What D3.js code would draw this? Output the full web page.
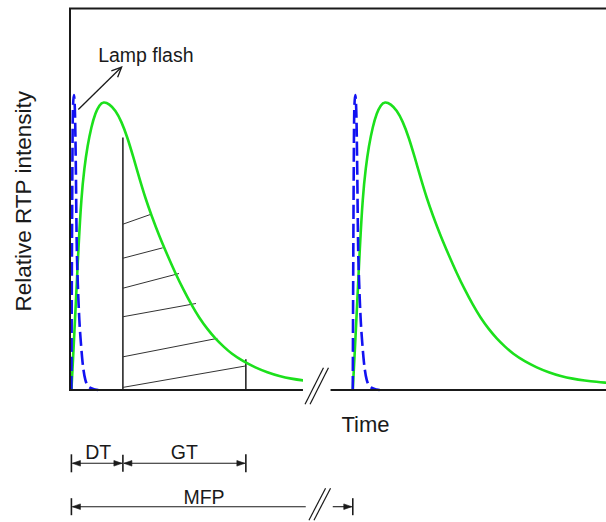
<!DOCTYPE html>
<html>
<head>
<meta charset="utf-8">
<script src="https://cdn.jsdelivr.net/npm/d3@7"></script>
<style>
  html, body { margin: 0; padding: 0; background: #fff; }
  svg { display: block; font-family: "Liberation Sans", Arial, Helvetica, sans-serif; }
</style>
</head>
<body>
<svg id="chart" width="606" height="522"></svg>
<script>
// Flash times (arbitrary time units) and the lamp-flash pulse / RTP response shapes,
// both given relative to the start of each flash.
const flashTimes = [0.05, 10.05];

const rtpT   = [0, 0.071, 0.160, 0.249, 0.355, 0.462, 0.569, 0.711, 0.853, 0.995, 1.137, 1.350,
                1.564, 1.777, 1.990, 2.203, 2.416, 2.630, 2.843, 3.127, 3.412, 3.696, 3.980, 4.264,
                4.549, 4.833, 5.117, 5.402, 5.686, 6.112, 6.539, 6.965, 7.392, 7.818, 8.245, 8.671, 9.026];
const rtpVal = [0, 0.132, 0.305, 0.492, 0.672, 0.772, 0.845, 0.914, 0.961, 0.989, 1.0, 0.992,
                0.970, 0.932, 0.876, 0.807, 0.734, 0.665, 0.606, 0.533, 0.468, 0.405, 0.348, 0.296,
                0.249, 0.211, 0.178, 0.151, 0.126, 0.099, 0.078, 0.061, 0.048, 0.039, 0.033, 0.028, 0.025];

const lampT   = [0, 0.028, 0.053, 0.088, 0.124, 0.159, 0.184, 0.230, 0.283, 0.343, 0.396, 0.496, 0.637, 0.850, 0.956];
const lampVal = [0, 0.658, 0.970, 1.023, 0.970, 0.762, 0.537, 0.364, 0.242, 0.156, 0.097, 0.035, 0.009, 0.002, 0];

// Delay-time end and gate end (absolute time), with the height of each gate line
const gateTimes = [1.88, 6.25];
const gateTops  = [0.876, 0.107];

// Hatching of the gated area: start on the delay line, end on the curve / gate line
const hatchStartVal = [0.575, 0.457, 0.353, 0.254, 0.115, 0.009];
const hatchEndT     = [2.868, 3.294, 3.874, 4.478, 5.235, 6.219];
const hatchEndVal   = [0.609, 0.493, 0.404, 0.300, 0.179, 0.083];

const axisBreak = [8.28, 9.26];
const xMax = 19.05, yMax = 1.323;

const labels = { x: "Time", y: "Relative RTP intensity", lamp: "Lamp flash", dt: "DT", gt: "GT", mfp: "MFP" };

const svg = d3.select("#chart");
const x = d3.scaleLinear().domain([0, xMax]).range([70, 606]);
const y = d3.scaleLinear().domain([0, yMax]).range([390, 8.5]);

const green = "#1ce01c", blue = "#1212f2", ink = "#1a1a1a";

// clip regions: first pulse stops at the axis break
const defs = svg.append("defs");
defs.append("clipPath").attr("id", "clipA").append("rect")
  .attr("x", x(0)).attr("y", 0).attr("width", x(axisBreak[0]) - x(0)).attr("height", 400);
defs.append("clipPath").attr("id", "clipB").append("rect")
  .attr("x", x(axisBreak[1])).attr("y", 0).attr("width", x(xMax) - x(axisBreak[1])).attr("height", 400);

const rtpLine = d3.line().x(d => x(d[0])).y(d => y(d[1])).curve(d3.curveBasis);
const lampLine = d3.line().x(d => x(d[0])).y(d => y(d[1])).curve(d3.curveMonotoneX);

// gate lines and hatching (first cycle)
const gates = svg.append("g").attr("stroke", ink).attr("fill", "none");
gateTimes.forEach((t, i) => {
  gates.append("line").attr("x1", x(t)).attr("x2", x(t))
    .attr("y1", y(0)).attr("y2", y(gateTops[i])).attr("stroke-width", 1.5);
});
hatchStartVal.forEach((v, i) => {
  gates.append("line")
    .attr("x1", x(gateTimes[0])).attr("y1", y(v))
    .attr("x2", x(hatchEndT[i])).attr("y2", y(hatchEndVal[i]))
    .attr("stroke-width", 1).attr("stroke", "#333");
});

// pulses
flashTimes.forEach((f, i) => {
  const g = svg.append("g").attr("clip-path", `url(#${i === 0 ? "clipA" : "clipB"})`);
  g.append("path")
    .datum(rtpT.map((t, j) => [f + t, rtpVal[j]]))
    .attr("d", rtpLine).attr("fill", "none").attr("stroke", green).attr("stroke-width", 2.6);
  g.append("path")
    .datum(lampT.map((t, j) => [f + t, lampVal[j]]))
    .attr("d", lampLine).attr("fill", "none").attr("stroke", blue).attr("stroke-width", 2.6)
    .attr("stroke-dasharray", "14,5");
});

// frame: left axis, top border, broken bottom axis
const frame = svg.append("g").attr("stroke", ink).attr("stroke-width", 2).attr("fill", "none");
frame.append("line").attr("x1", x(0)).attr("x2", x(0)).attr("y1", y(yMax)).attr("y2", y(0) + 1);
frame.append("line").attr("x1", x(0) - 1).attr("x2", x(xMax)).attr("y1", y(yMax)).attr("y2", y(yMax));
frame.append("line").attr("x1", x(0) - 1).attr("x2", x(axisBreak[0])).attr("y1", y(0)).attr("y2", y(0));
frame.append("line").attr("x1", x(axisBreak[1])).attr("x2", x(xMax)).attr("y1", y(0)).attr("y2", y(0));

function slashes(cx, cy, hx, hy) {
  [-2.5, 2.5].forEach(o => {
    svg.append("line").attr("x1", cx + o - hx).attr("y1", cy + hy)
      .attr("x2", cx + o + hx).attr("y2", cy - hy)
      .attr("stroke", ink).attr("stroke-width", 1.2);
  });
}
const breakMid = (x(axisBreak[0]) + x(axisBreak[1])) / 2;
slashes(breakMid, y(0) - 4, 9.2, 18.3);

// axis titles
svg.append("text").attr("x", (x(axisBreak[1]) + 35)).attr("y", 432)
  .attr("text-anchor", "middle").attr("font-size", 22).attr("fill", ink).text(labels.x);
svg.append("text").attr("transform", `translate(31,${(y(0) + y(yMax)) / 2 + 2}) rotate(-90)`)
  .attr("text-anchor", "middle").attr("font-size", 22.5).attr("fill", ink).text(labels.y);

// lamp flash annotation
function arrowHead(x2, y2, x1, y1, len, half, filled) {
  const a = Math.atan2(y2 - y1, x2 - x1);
  const bx = x2 - len * Math.cos(a), by = y2 - len * Math.sin(a);
  const px = -Math.sin(a) * half, py = Math.cos(a) * half;
  const p = filled
    ? `M${x2},${y2}L${bx + px},${by + py}L${bx - px},${by - py}Z`
    : `M${bx + px},${by + py}L${x2},${y2}L${bx - px},${by - py}`;
  svg.append("path").attr("d", p)
    .attr("fill", filled ? ink : "none").attr("stroke", ink).attr("stroke-width", filled ? 0.6 : 1.3);
}
const lampFrom = [x(0.295), y(0.973)], lampTo = [x(1.835), y(1.12)];
svg.append("line").attr("x1", lampFrom[0]).attr("y1", lampFrom[1])
  .attr("x2", lampTo[0]).attr("y2", lampTo[1]).attr("stroke", ink).attr("stroke-width", 1.3);
arrowHead(lampTo[0], lampTo[1], lampFrom[0], lampFrom[1], 10, 4.5, false);
svg.append("text").attr("x", x(1.0)).attr("y", 62).attr("font-size", 19.5).attr("fill", ink).text(labels.lamp);

// dimension lines for DT, GT and MFP
function tick(xp, yc, h) {
  svg.append("line").attr("x1", xp).attr("x2", xp).attr("y1", yc - h).attr("y2", yc + h)
    .attr("stroke", ink).attr("stroke-width", 1.6);
}
function dim(xa, xb, yc, headA, headB) {
  svg.append("line").attr("x1", xa).attr("x2", xb).attr("y1", yc).attr("y2", yc)
    .attr("stroke", ink).attr("stroke-width", 1.1);
  if (headA) arrowHead(xa, yc, xb, yc, 8, 2.8, true);
  if (headB) arrowHead(xb, yc, xa, yc, 8, 2.8, true);
}
const row1 = 463.3, row2 = 506.7;
const xf0 = x(flashTimes[0]), xdt = x(gateTimes[0]), xgt = x(gateTimes[1]), xf1 = x(flashTimes[1]);
tick(xf0, row1, 9); tick(xdt, row1, 8.5); tick(xgt, row1, 9);
dim(xf0 + 1, xdt - 1, row1, true, true);
dim(xdt + 1, xgt - 1, row1, true, true);
svg.append("text").attr("x", (xf0 + xdt) / 2 + 1).attr("y", 459).attr("text-anchor", "middle")
  .attr("font-size", 19.5).attr("fill", ink).text(labels.dt);
svg.append("text").attr("x", (xdt + xgt) / 2).attr("y", 459).attr("text-anchor", "middle")
  .attr("font-size", 19.5).attr("fill", ink).text(labels.gt);

tick(xf0, row2, 8.5); tick(xf1, row2, 8.5);
const mfpMid = breakMid + 3;
dim(xf0 + 1, mfpMid - 14, row2, true, false);
dim(mfpMid + 13, xf1 - 1, row2, false, true);
slashes(mfpMid, row2 - 2.5, 8.3, 16);
svg.append("text").attr("x", 204).attr("y", 504).attr("text-anchor", "middle")
  .attr("font-size", 19.5).attr("fill", ink).text(labels.mfp);
</script>
</body>
</html>
